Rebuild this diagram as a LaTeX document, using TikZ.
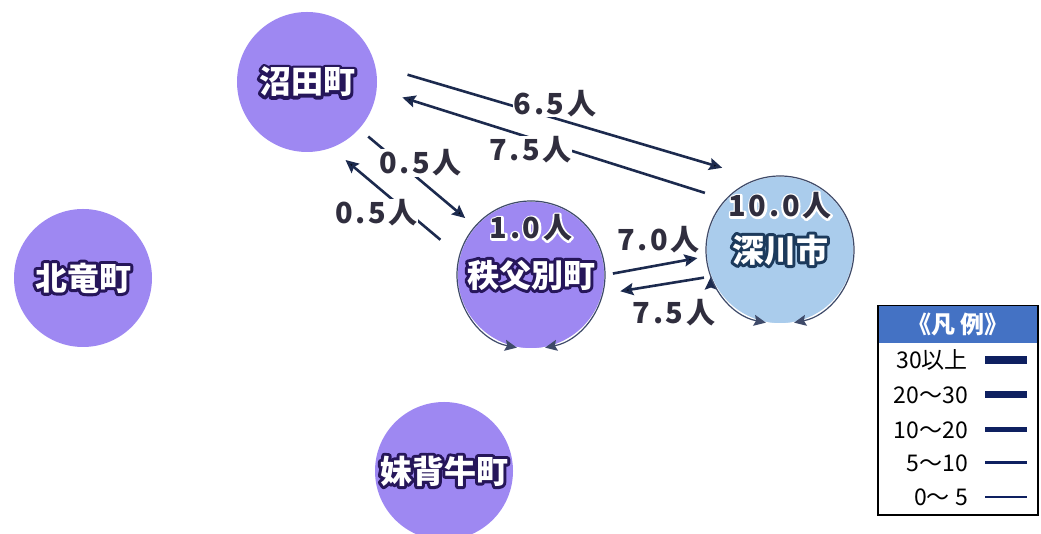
\documentclass[tikz,border=0pt]{standalone}
\usepackage{fontspec}
\setmainfont{Noto Sans CJK JP}
\usepackage{tikz}
\usetikzlibrary{arrows.meta, positioning}
\usepackage{xcolor}

\definecolor{townpurple}{RGB}{158,136,242}
\definecolor{cityblue}{RGB}{170,204,236}
\definecolor{flownavy}{RGB}{28,42,78}
\definecolor{numgray}{RGB}{48,46,62}
\definecolor{halopurple}{RGB}{38,22,90}
\definecolor{haloblue}{RGB}{28,58,92}
\definecolor{legendblue}{RGB}{68,114,196}
\definecolor{legendnavy}{RGB}{14,32,96}

% text with an outline behind it
\newcommand{\haloed}[3]{\leavevmode\rlap{\special{pdf:literal direct q 2 Tr #2 w 1 j 1 J}\textcolor{#1}{#3}\special{pdf:literal direct Q}}#3}

\begin{document}
\begin{tikzpicture}[x=1pt,y=1pt,node distance=47pt,on grid]
    \tikzstyle{town}=[shape=circle,fill=townpurple,inner sep=0pt,outer sep=0pt,minimum size=140pt,text=white,font=\fontsize{32}{32}\selectfont\bfseries]
    \tikzstyle{hub}=[town,draw=white,line width=1.5pt,minimum size=148pt]
    \tikzstyle{flowline}=[-{Stealth[length=13pt,width=12pt,inset=2pt]},draw=flownavy,line width=2.6pt]
    \tikzstyle{flowlabel}=[font=\fontsize{29}{29}\selectfont\bfseries\addfontfeature{LetterSpace=9},text=numgray,fill=white,inner sep=0.5pt]
    \tikzstyle{stay}=[font=\fontsize{29}{29}\selectfont\bfseries\addfontfeature{LetterSpace=9},text=numgray,inner sep=0pt]
    \tikzstyle{selfflow}=[-{Stealth[length=12pt,width=11pt,inset=2pt]},draw=flownavy!85!white,line width=1.2pt]
    \tikzstyle{legtext}=[font=\fontsize{23}{23}\selectfont,anchor=east,inner sep=0pt]

    \useasboundingbox (0,0) rectangle (1041,534);

    \node[town] (NU) at (307,452) {\haloed{halopurple}{6}{沼田町}};
    \node[town, minimum size=138pt] (HO) at (83,256) {\haloed{halopurple}{6}{北竜町}};
    \node[town, minimum size=138pt] (MO) at (444,63) {\haloed{halopurple}{6}{妹背牛町}};
    \node[hub] (CH) at (531,259) {\haloed{halopurple}{6}{秩父別町}};
    \node[hub, fill=cityblue] (FU) at (780,284) {\haloed{haloblue}{6}{深川市}};
    \node[stay, above=47pt of CH] (CHs) {\haloed{white}{4}{1.0人}};
    \node[stay, above=44pt of FU] (FUs) {\haloed{white}{4}{10.0人}};

    % movements between towns
    \path[flowline]
    (NU.14) edge[shorten <=34pt, shorten >=39pt] node[flowlabel, pos=0.458, xshift=4pt, yshift=14pt] {6.5人} (FU.106)
    (FU.137) edge[shorten <=22pt, shorten >=27pt] node[flowlabel, pos=0.551, xshift=-3pt, yshift=-11pt] {7.5人} (NU.-6.6)
    (NU.-42.4) edge[shorten <=12pt, shorten >=13pt] node[flowlabel, pos=0.453, xshift=9pt, yshift=10pt] {0.5人} (CH.139)
    (CH.165.4) edge[shorten <=25pt, shorten >=19pt] node[flowlabel, pos=0.545, xshift=-13pt, yshift=-16pt] {0.5人} (NU.-70.3)
    (CH.0.5) edge[shorten <=8pt, shorten >=9pt] node[flowlabel, pos=0.568, xshift=-4pt, yshift=25pt] {7.0人} (FU.-175)
    (FU.-159) edge[shorten <=7pt, shorten >=18pt] node[flowlabel, pos=0.386, xshift=5pt, yshift=-29pt] {7.5人} (CH.-15.7)
    ;

    % movements within a town
    \draw[selfflow] (CH.90) arc[start angle=90, end angle=259, radius=74pt];
    \draw[selfflow] (CH.90) arc[start angle=90, end angle=-79, radius=74pt];
    \draw[selfflow] (FU.90) arc[start angle=90, end angle=259, radius=74pt];
    \draw[selfflow] (FU.90) arc[start angle=90, end angle=-79, radius=74pt];

    % legend
    \node[draw=black, line width=1.2pt, fill=white, minimum width=160pt, minimum height=209pt, inner sep=0pt] (LG) at (958,123.5) {};
    \node[fill=legendblue, minimum width=158.8pt, minimum height=36.5pt, inner sep=0pt, anchor=north, text=white, font=\fontsize{24}{24}\selectfont\bfseries] (LH) at ([yshift=-0.6pt]LG.north) {《凡 例》};
    \node[legtext] (L1) at (968,174) {30以上};
    \node[legtext] (L2) at ([yshift=-35pt]L1.east) {20〜30};
    \node[legtext] (L3) at ([yshift=-35pt]L2.east) {10〜20};
    \node[legtext] (L4) at ([yshift=-33pt]L3.east) {5〜10};
    \node[legtext] (L5) at ([yshift=-34pt]L4.east) {0〜 5};
    \draw[legendnavy, line width=8pt] ([xshift=17pt]L1.east) -- ++(42pt,0);
    \draw[legendnavy, line width=7pt] ([xshift=17pt]L2.east) -- ++(42pt,0);
    \draw[legendnavy, line width=5pt] ([xshift=17pt]L3.east) -- ++(42pt,0);
    \draw[legendnavy, line width=3pt] ([xshift=17pt]L4.east) -- ++(42pt,0);
    \draw[legendnavy, line width=2pt] ([xshift=17pt]L5.east) -- ++(42pt,0);
\end{tikzpicture}
\end{document}
